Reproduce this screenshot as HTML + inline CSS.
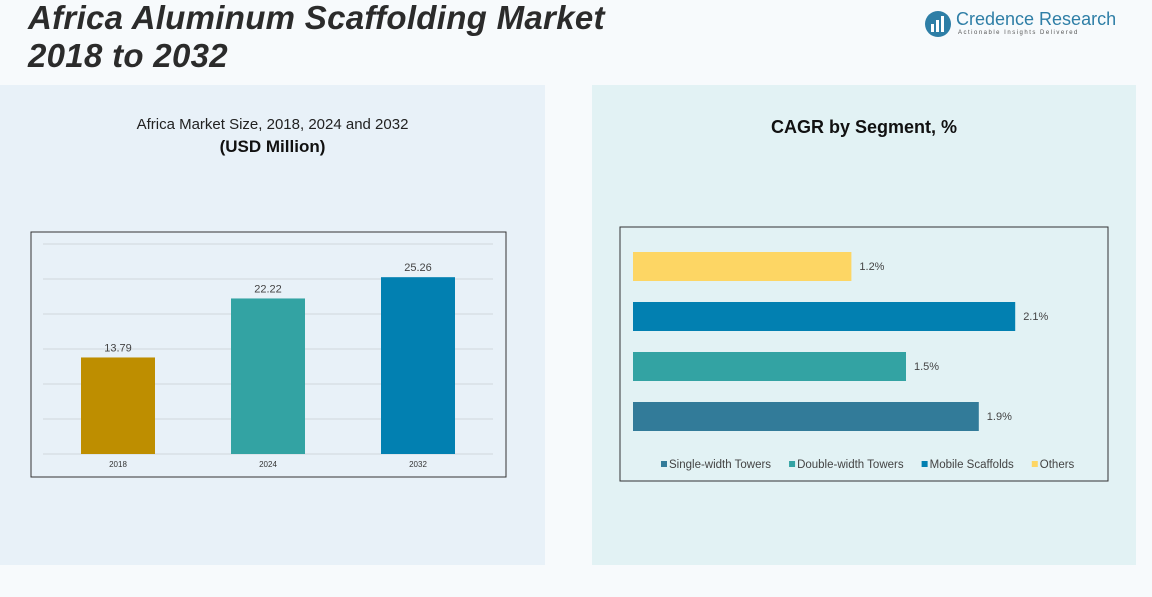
<!DOCTYPE html>
<html><head><meta charset="utf-8"><style>
body{margin:0;width:1152px;height:597px;background:#f7fafc;font-family:"Liberation Sans",sans-serif;position:relative;overflow:hidden}
.abs{position:absolute}
</style></head><body>
<div class="abs" style="left:0;top:85px;width:545px;height:480px;background:#e8f1f8"></div>
<div class="abs" style="left:592px;top:85px;width:544px;height:480px;background:#e2f2f4"></div>
<div class="abs" style="left:28px;top:-1px;font-size:33px;font-weight:bold;font-style:italic;color:#2b2b2b;line-height:38px;letter-spacing:0.3px">Africa Aluminum Scaffolding Market<br>2018 to 2032</div>
<div class="abs" style="left:924px;top:8px;width:190px;height:32px">
<svg width="30" height="30" class="abs" style="left:0;top:2px"><circle cx="14" cy="14" r="13" fill="#2e7ea6"/><rect x="7" y="14" width="3" height="8" fill="#fff"/><rect x="12" y="10" width="3" height="12" fill="#fff"/><rect x="17" y="6" width="3" height="16" fill="#fff"/></svg>
<div class="abs" style="left:32px;top:1px;font-size:18px;color:#2e7ea6;white-space:nowrap">Credence Research</div>
<div class="abs" style="left:34px;top:22px;font-size:6px;color:#555;letter-spacing:1.5px;white-space:nowrap">Actionable Insights Delivered</div>
</div>
<div class="abs" style="left:0;top:116px;width:545px;text-align:center;font-size:15px;color:#222">Africa Market Size, 2018, 2024 and 2032</div>
<div class="abs" style="left:0;top:137px;width:545px;text-align:center;font-size:17px;font-weight:bold;color:#111">(USD Million)</div>
<div class="abs" style="left:592px;top:117px;width:544px;text-align:center;font-size:18px;font-weight:bold;color:#111">CAGR by Segment, %</div>
<svg class="abs" style="left:0;top:0" width="1152" height="597" id="svg">
<rect x="31" y="232" width="475" height="245" fill="none" stroke="#333" stroke-width="1"/>
<rect x="620" y="227" width="488" height="254" fill="none" stroke="#333" stroke-width="1"/>
<g id="left"></g><g id="right"></g>
</svg>
<script>
const years=["2018","2024","2032"];
const sizes=[13.79,22.22,25.26];
const segs=["Others","Mobile Scaffolds","Double-width Towers","Single-width Towers"];
const cagr=[1.2,2.1,1.5,1.9];
const legendOrder=["Single-width Towers","Double-width Towers","Mobile Scaffolds","Others"];
const NS="http://www.w3.org/2000/svg";
const colY={"2018":"#be8e00","2024":"#33a3a3","2032":"#0280b1"};
const colS={"Others":"#fdd664","Mobile Scaffolds":"#0280b1","Double-width Towers":"#33a3a3","Single-width Towers":"#327b99"};
function mk(t,a,p){const e=document.createElementNS(NS,t);for(const k in a)e.setAttribute(k,a[k]);p.appendChild(e);return e;}
const L=document.getElementById('left'),R=document.getElementById('right');
const yS=v=>454-v*7;
for(let i=0;i<=6;i++){const g=mk('line',{x1:43,x2:493,y1:yS(i*5),y2:yS(i*5),stroke:'#cfd6db','stroke-width':1},L);

}
const xS=i=>43+150*i+75;
years.forEach((y,i)=>{
const r=mk('rect',{x:xS(i)-37,y:yS(sizes[i]),width:74,height:454-yS(sizes[i]),fill:colY[y]},L);


const t=mk('text',{x:xS(i),y:yS(sizes[i])-6,'text-anchor':'middle','font-size':11,fill:'#444'},L);t.textContent=sizes[i].toFixed(2);


const c=mk('text',{x:xS(i),y:467,'text-anchor':'middle','font-size':8,fill:'#333'},L);c.textContent=y;


});
const wS=v=>v*182;
segs.forEach((s,i)=>{
const y=252+i*50;
const r=mk('rect',{x:633,y:y,width:wS(cagr[i]),height:29,fill:colS[s]},R);


const t=mk('text',{x:633+wS(cagr[i])+8,y:y+18,'font-size':11,fill:'#444'},R);t.textContent=cagr[i]+'%';


});
let lx=661;
legendOrder.forEach(s=>{
const g=mk('g',{},R);


mk('rect',{x:lx,y:461,width:6,height:6,fill:colS[s]},g);
const t=mk('text',{x:lx+8,y:468,'font-size':11.5,fill:'#444'},g);t.textContent=s;
lx+=8+t.getComputedTextLength()+18;
});
</script>
</body></html>
